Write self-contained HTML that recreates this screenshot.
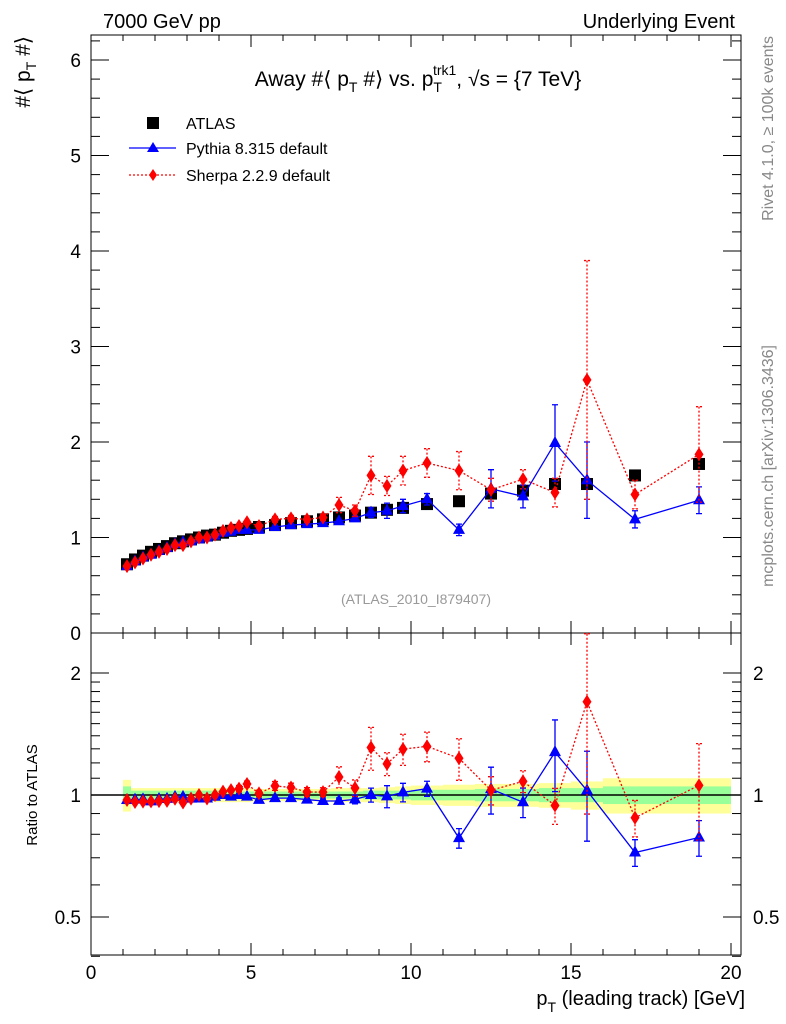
<!DOCTYPE html>
<html><head><meta charset="utf-8"><style>
body{margin:0;background:#fff;}
svg{display:block;font-family:"Liberation Sans",sans-serif;}
</style></head><body>
<svg id="c" width="786" height="1024" viewBox="0 0 786 1024" xmlns="http://www.w3.org/2000/svg">
<text x="103" y="28" font-size="20">7000 GeV pp</text>
<text x="735" y="28" font-size="20" text-anchor="end">Underlying Event</text>
<text x="418" y="86" font-size="21" text-anchor="middle">Away #⟨ p<tspan font-size="14" dy="6">T</tspan><tspan dy="-6"> #⟩ vs. p</tspan><tspan font-size="14" dy="6">T</tspan><tspan font-size="14" dx="-9" dy="-17">trk1</tspan><tspan dy="11">, √s = {7 TeV}</tspan></text>
<text x="773" y="36" font-size="16" fill="#888" text-anchor="end" transform="rotate(-90 773 36)">Rivet 4.1.0, ≥ 100k events</text>
<text x="773" y="345" font-size="16" fill="#888" text-anchor="end" transform="rotate(-90 773 345)">mcplots.cern.ch [arXiv:1306.3436]</text>
<text x="30" y="36" font-size="21" text-anchor="end" transform="rotate(-90 30 36)">#⟨ p<tspan font-size="14" dy="6">T</tspan><tspan dy="-6"> #⟩</tspan></text>
<text x="37" y="795" font-size="15" text-anchor="middle" transform="rotate(-90 37 795)">Ratio to ATLAS</text>
<text x="416" y="604" font-size="14" fill="#999" text-anchor="middle">(ATLAS_2010_I879407)</text>
<text x="745" y="1005" font-size="20" text-anchor="end">p<tspan font-size="14" dy="7">T</tspan><tspan dy="-7"> (leading track) [GeV]</tspan></text>
<g id="legend">
<rect x="147" y="117" width="12" height="12" fill="#000"/>
<text x="186" y="129" font-size="16">ATLAS</text>
<line x1="129" y1="148" x2="176" y2="148" stroke="#00f" stroke-width="1.3"/>
<path d="M153,142 L159,152 L147,152Z" fill="#00f"/>
<text x="186" y="154" font-size="16">Pythia 8.315 default</text>
<line x1="129" y1="175" x2="176" y2="175" stroke="#f00" stroke-width="1.3" stroke-dasharray="2,2"/>
<path d="M153,169 L157,175 L153,181 L149,175Z" fill="#f00"/>
<text x="186" y="181" font-size="16">Sherpa 2.2.9 default</text>
</g>
<g id="plot"></g>
</svg>
<script>
const xCenters=[1.125,1.375,1.625,1.875,2.125,2.375,2.625,2.875,3.125,3.375,3.625,3.875,4.125,4.375,4.625,4.875,5.25,5.75,6.25,6.75,7.25,7.75,8.25,8.75,9.25,9.75,10.5,11.5,12.5,13.5,14.5,15.5,17,19];
const xLow=[1,1.25,1.5,1.75,2,2.25,2.5,2.75,3,3.25,3.5,3.75,4,4.25,4.5,4.75,5,5.5,6,6.5,7,7.5,8,8.5,9,9.5,10,11,12,13,14,15,16,18];
const xHigh=[1.25,1.5,1.75,2,2.25,2.5,2.75,3,3.25,3.5,3.75,4,4.25,4.5,4.75,5,5.5,6,6.5,7,7.5,8,8.5,9,9.5,10,11,12,13,14,15,16,18,20];
const atlas=[0.72,0.77,0.81,0.85,0.88,0.91,0.94,0.96,0.98,1.0,1.02,1.03,1.05,1.07,1.08,1.09,1.11,1.13,1.15,1.17,1.19,1.21,1.23,1.26,1.29,1.31,1.35,1.38,1.46,1.49,1.56,1.56,1.65,1.77];
const atlasTot=[0.09,0.04,0.04,0.04,0.04,0.04,0.04,0.04,0.04,0.04,0.04,0.04,0.04,0.04,0.04,0.04,0.035,0.035,0.035,0.035,0.035,0.04,0.04,0.04,0.045,0.05,0.055,0.06,0.065,0.065,0.07,0.08,0.1,0.1];
const atlasStat=[0.05,0.025,0.025,0.025,0.025,0.025,0.025,0.025,0.025,0.025,0.025,0.025,0.02,0.02,0.02,0.02,0.02,0.02,0.02,0.02,0.02,0.02,0.02,0.025,0.025,0.025,0.03,0.03,0.035,0.035,0.04,0.04,0.05,0.05];
const pythia=[0.70,0.75,0.79,0.82,0.86,0.89,0.93,0.95,0.96,0.98,1.0,1.02,1.05,1.06,1.08,1.08,1.08,1.11,1.13,1.14,1.15,1.17,1.20,1.26,1.28,1.33,1.40,1.08,1.51,1.43,1.99,1.60,1.19,1.39];
const pythiaErr=[0.005,0.005,0.005,0.005,0.005,0.005,0.005,0.005,0.01,0.01,0.01,0.01,0.01,0.01,0.01,0.01,0.01,0.01,0.01,0.02,0.02,0.02,0.03,0.05,0.08,0.07,0.06,0.06,0.2,0.12,0.4,0.4,0.09,0.14];
const sherpa=[0.70,0.74,0.78,0.82,0.85,0.88,0.92,0.92,0.96,1.0,1.0,1.03,1.07,1.10,1.12,1.16,1.12,1.19,1.20,1.19,1.21,1.34,1.28,1.65,1.54,1.70,1.78,1.70,1.50,1.61,1.47,2.65,1.45,1.87];
const sherpaErr=[0.005,0.005,0.005,0.005,0.005,0.005,0.005,0.005,0.01,0.01,0.01,0.01,0.01,0.01,0.02,0.02,0.02,0.03,0.03,0.03,0.03,0.08,0.06,0.2,0.1,0.15,0.15,0.2,0.12,0.1,0.15,1.25,0.15,0.5];
const mainTicks=[0,1,2,3,4,5,6];
const ratioTicks=[0.5,1,2];
const xTicks=[0,5,10,15,20];

const NS="http://www.w3.org/2000/svg";
const g=document.getElementById('plot');
const L=91,R=741,MT=35,MB=633,RB=955;
const X=v=>L+32*v;
const Y=v=>MB-95.5*v;
const YR=r=>795-122*Math.log2(r);
function el(t,a,p){const e=document.createElementNS(NS,t);for(const k in a)e.setAttribute(k,a[k]);(p||g).appendChild(e);return e;}

for(let i=0;i<xCenters.length;i++){
  const b=el('rect',{x:X(xLow[i]),y:YR(1+atlasTot[i]),width:X(xHigh[i])-X(xLow[i]),height:YR(1-atlasTot[i])-YR(1+atlasTot[i]),fill:'#ffff99'});
  
  
  const s=el('rect',{x:X(xLow[i]),y:YR(1+atlasStat[i]),width:X(xHigh[i])-X(xLow[i]),height:YR(1-atlasStat[i])-YR(1+atlasStat[i]),fill:'#99ff99'});
  
  
}
const one=el('line',{x1:L,x2:R,y1:YR(1),y2:YR(1),stroke:'#000','stroke-width':1.5});



const f1=el('rect',{x:L,y:MT,width:R-L,height:MB-MT,fill:'none',stroke:'#000','stroke-width':1});


const f2=el('rect',{x:L,y:MB,width:R-L,height:RB-MB,fill:'none',stroke:'#000','stroke-width':1});



for(let v=0;v<=20;v++){
  const big=v%5===0, len=big?12:6;
  [[MB,-1],[MT,1],[RB,-1],[MB,1]].forEach(([y0,d])=>{
    const t=el('line',{x1:X(v),x2:X(v),y1:y0,y2:y0+d*len,stroke:'#000'});
    
    
  });
}
xTicks.forEach(v=>{
  const t=el('text',{x:X(v),y:RB+24,'font-size':19,'text-anchor':'middle'});t.textContent=v;
  
  
});
for(let k=0;k<=31;k++){
  const v=k*0.2, big=k%5===0, len=big?18:9;
  if(Y(v)<MT)continue;
  [[L,1],[R,-1]].forEach(([x0,d])=>{
    const t=el('line',{x1:x0,x2:x0+d*len,y1:Y(v),y2:Y(v),stroke:'#000'});
    
    
  });
}
mainTicks.forEach(v=>{
  const t=el('text',{x:L-10,y:Y(v)+7,'font-size':19,'text-anchor':'end'});t.textContent=v;
  
  
});
[0.4,0.5,0.6,0.7,0.8,0.9,1,2,1.1,1.2,1.3,1.4,1.5,1.6,1.7,1.8,1.9].forEach(v=>{
  const big=(v===0.5||v===1||v===2), len=big?18:9;
  [[L,1],[R,-1]].forEach(([x0,d])=>{
    const t=el('line',{x1:x0,x2:x0+d*len,y1:YR(v),y2:YR(v),stroke:'#000'});
    
    
  });
});
ratioTicks.forEach(v=>{
  [[L-10,'end'],[R+12,'start']].forEach(([x0,a])=>{
    const t=el('text',{x:x0,y:YR(v)+7,'font-size':19,'text-anchor':a});t.textContent=v;
    
    
  });
});

function marker(shape,x,y,color,parent){
  return el('path',{d:shape==='tri'?`M${x},${y-7}L${x+6},${y+4}L${x-6},${y+4}Z`:`M${x},${y-7}L${x+4.5},${y}L${x},${y+7}L${x-4.5},${y}Z`,fill:color},parent);
}
function series(vals,errs,color,dash,shape,yf,name,ratio,parent){
  const pts=vals.map((v,i)=>[X(xCenters[i]),yf(ratio?v/atlas[i]:v)]);
  const pl=el('polyline',{points:pts.map(p=>p.join(',')).join(' '),fill:'none',stroke:color,'stroke-width':1.3,'stroke-dasharray':dash},parent);
  
  
  vals.forEach((v,i)=>{
    const c=ratio?v/atlas[i]:v, e=ratio?errs[i]/atlas[i]:errs[i];
    const x=X(xCenters[i]);
    const y1=yf(c+e), y2=yf(Math.max(c-e,0.05));
    if(y2-y1>4){
      const eb=el('path',{d:`M${x},${y1}V${y2}M${x-3},${y1}H${x+3}M${x-3},${y2}H${x+3}`,stroke:color,'stroke-width':1.3,fill:'none','stroke-dasharray':dash},parent);
      
      
    }
    const m=marker(shape,x,yf(c),color,parent);
    
    
  });
}
atlas.forEach((v,i)=>{
  const r=el('rect',{x:X(xCenters[i])-6,y:Y(v)-6,width:12,height:12,fill:'#000'});
  
  
});
series(pythia,pythiaErr,'#00f','none','tri',Y,'pythia',false,g);
series(sherpa,sherpaErr,'#f00','2,2','dia',Y,'sherpa',false,g);
const clip=el('clipPath',{id:'rc'});el('rect',{x:L,y:MB,width:R-L,height:RB-MB},clip);
const rg=el('g',{'clip-path':'url(#rc)'});


series(pythia,pythiaErr,'#00f','none','tri',YR,'pythia-ratio',true,rg);
series(sherpa,sherpaErr,'#f00','2,2','dia',YR,'sherpa-ratio',true,rg);
</script>
</body></html>
